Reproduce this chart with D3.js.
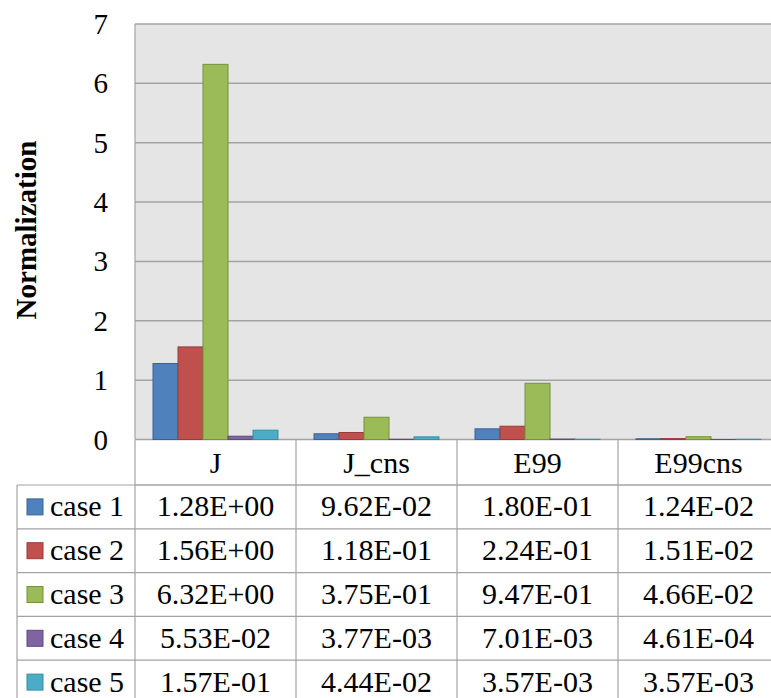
<!DOCTYPE html>
<html>
<head>
<meta charset="utf-8">
<script src="https://cdn.jsdelivr.net/npm/d3@7"></script>
<style>
  html, body { margin: 0; padding: 0; background: #fff; }
  svg { display: block; }
</style>
</head>
<body>
<svg id="chart" width="771" height="698"></svg>
<script>
const categories = ["J", "J_cns", "E99", "E99cns"];
const seriesNames = ["case 1", "case 2", "case 3", "case 4", "case 5"];
const case1 = [1.28, 0.0962, 0.180, 0.0124];
const case2 = [1.56, 0.118, 0.224, 0.0151];
const case3 = [6.32, 0.375, 0.947, 0.0466];
const case4 = [0.0553, 0.00377, 0.00701, 0.000461];
const case5 = [0.157, 0.0444, 0.00357, 0.00357];
const tableLabels = [
  ["1.28E+00", "9.62E-02", "1.80E-01", "1.24E-02"],
  ["1.56E+00", "1.18E-01", "2.24E-01", "1.51E-02"],
  ["6.32E+00", "3.75E-01", "9.47E-01", "4.66E-02"],
  ["5.53E-02", "3.77E-03", "7.01E-03", "4.61E-04"],
  ["1.57E-01", "4.44E-02", "3.57E-03", "3.57E-03"]
];
const yTicks = [0, 1, 2, 3, 4, 5, 6, 7];
const colors = ["#4F81BD", "#C0504D", "#9BBB59", "#8064A2", "#4BACC6"];
const strokes = ["#3A6394", "#963C3A", "#76923C", "#5F4A7A", "#358FA6"];
const yLabel = "Normalization";

const seriesValues = [case1, case2, case3, case4, case5];
const FONT = "'Liberation Serif', Tinos, 'Times New Roman', 'DejaVu Serif', serif";

const svg = d3.select("#chart").attr("font-family", FONT);
const plotLeft = 135, plotTop = 24, plotBottom = 439.5, colW = 161;
const plotRight = plotLeft + colW * categories.length;
const gridColor = "#a3a3a3";

const x = d3.scaleBand().domain(categories).range([plotLeft, plotRight]).paddingInner(0).paddingOuter(0);
const xInner = d3.scaleBand().domain(d3.range(seriesNames.length)).range([0, x.bandwidth()]).paddingInner(0).paddingOuter(0.72);
const y = d3.scaleLinear().domain([0, 7]).range([plotBottom, plotTop]);

svg.append("rect")
  .attr("x", plotLeft).attr("y", plotTop)
  .attr("width", plotRight - plotLeft).attr("height", plotBottom - plotTop)
  .attr("fill", "#e5e5e5");

svg.append("g").selectAll("line").data(yTicks).join("line")
  .attr("x1", plotLeft).attr("x2", plotRight)
  .attr("y1", d => y(d)).attr("y2", d => y(d))
  .attr("stroke", gridColor).attr("stroke-width", 1.5);

svg.append("line")
  .attr("x1", plotLeft).attr("x2", plotLeft)
  .attr("y1", plotTop).attr("y2", plotBottom)
  .attr("stroke", gridColor).attr("stroke-width", 1.2);

svg.append("g").selectAll("text").data(yTicks).join("text")
  .attr("x", 108).attr("y", d => y(d) + 10)
  .attr("text-anchor", "end")
  .attr("font-size", 29)
  .attr("font-family", FONT)
  .text(d => d);

svg.append("text")
  .attr("transform", "translate(36,230) rotate(-90)")
  .attr("text-anchor", "middle")
  .attr("font-size", 29)
  .attr("font-weight", "bold")
  .attr("font-family", FONT)
  .text(yLabel);

seriesValues.forEach((vals, si) => {
  svg.append("g").selectAll("rect").data(vals).join("rect")
    .attr("x", (d, i) => x(categories[i]) + xInner(si))
    .attr("width", xInner.bandwidth())
    .attr("y", d => y(d))
    .attr("height", d => Math.max(0, y(0) - y(d)))
    .attr("fill", colors[si])
    .attr("stroke", strokes[si])
    .attr("stroke-width", 1);
});

const headerTop = 440, headerH = 45, rowH = 43.8;
const tableLeft = 17;
const tbl = svg.append("g");
const rowTops = seriesNames.map((s, i) => headerTop + headerH + i * rowH);
const tableBottom = headerTop + headerH + seriesNames.length * rowH;

tbl.append("line").attr("x1", plotLeft).attr("x2", plotRight)
  .attr("y1", headerTop + headerH).attr("y2", headerTop + headerH);
tbl.selectAll("line.h").data(rowTops.concat([tableBottom])).join("line")
  .attr("class", "h")
  .attr("x1", tableLeft).attr("x2", plotRight)
  .attr("y1", d => d).attr("y2", d => d);
tbl.selectAll("line.v").data(categories.concat(["__end"])).join("line")
  .attr("class", "v")
  .attr("x1", d => d === "__end" ? plotRight : x(d))
  .attr("x2", d => d === "__end" ? plotRight : x(d))
  .attr("y1", headerTop).attr("y2", tableBottom);
tbl.append("line").attr("x1", tableLeft).attr("x2", tableLeft)
  .attr("y1", headerTop + headerH).attr("y2", tableBottom);
tbl.selectAll("line").attr("stroke", gridColor).attr("stroke-width", 1.2);

tbl.selectAll("text.cat").data(categories).join("text")
  .attr("class", "cat")
  .attr("x", d => x(d) + x.bandwidth() / 2)
  .attr("y", headerTop + headerH / 2 + 10)
  .attr("text-anchor", "middle")
  .attr("font-size", 30)
  .attr("font-family", FONT)
  .text(d => d);

seriesNames.forEach((name, si) => {
  const top = rowTops[si];
  const cy = top + rowH / 2;
  tbl.append("rect")
    .attr("x", 27).attr("y", cy - 8).attr("width", 16).attr("height", 16)
    .attr("fill", colors[si]).attr("stroke", strokes[si]).attr("stroke-width", 1);
  tbl.append("text")
    .attr("x", 50).attr("y", cy + 9.5)
    .attr("font-size", 30)
    .attr("font-family", FONT)
    .text(name);
  tbl.append("g").selectAll("text").data(tableLabels[si]).join("text")
    .attr("x", (d, i) => x(categories[i]) + x.bandwidth() / 2)
    .attr("y", cy + 9.5)
    .attr("text-anchor", "middle")
    .attr("font-size", 30)
    .attr("font-family", FONT)
    .text(d => d);
});
</script>
</body>
</html>
